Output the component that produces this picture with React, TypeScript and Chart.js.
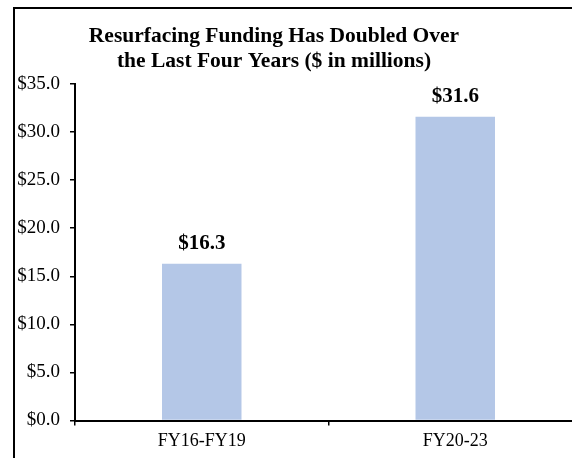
import React, { useEffect, useRef } from "react";
import { Chart, registerables } from "chart.js";

Chart.register(...registerables);

const categories = ["FY16-FY19", "FY20-23"];
const funding = [16.3, 31.6];
const titleLines = ["Resurfacing Funding Has Doubled Over", "the Last Four Years ($ in millions)"];
const yMin = 0;
const yMax = 35;
const yStep = 5;

const SERIF = '"Liberation Serif", "Times New Roman", Times, serif';

const titlePlugin = {
  id: "customTitle",
  afterDraw(chart: any) {
    const ctx = chart.ctx;
    ctx.save();
    ctx.fillStyle = "#000";
    ctx.font = `bold 21.5px ${SERIF}`;
    ctx.textAlign = "center";
    ctx.textBaseline = "alphabetic";
    ctx.fillText(titleLines[0], 259, 33);
    ctx.fillText(titleLines[1], 259, 58);
    ctx.restore();
  },
};

const labelPlugin = {
  id: "barLabels",
  afterDatasetsDraw(chart: any) {
    const ctx = chart.ctx;
    const meta = chart.getDatasetMeta(0);
    ctx.save();
    ctx.fillStyle = "#000";
    ctx.font = `bold 21px ${SERIF}`;
    ctx.textAlign = "center";
    ctx.textBaseline = "alphabetic";
    meta.data.forEach((bar: any, i: number) => {
      ctx.fillText("$" + funding[i].toFixed(1), bar.x, bar.y - 15);
    });
    ctx.restore();
  },
};

export default function App() {
  const ref = useRef<HTMLCanvasElement>(null);
  useEffect(() => {
    if (!ref.current) return;
    const chart = new Chart(ref.current, {
      type: "bar",
      data: {
        labels: categories,
        datasets: [
          {
            data: funding,
            backgroundColor: "#B4C7E7",
            borderWidth: 0,
            barPercentage: 1,
            categoryPercentage: 0.3136,
          },
        ],
      },
      options: {
        animation: false,
        responsive: false,
        maintainAspectRatio: false,
        layout: { padding: { top: 75, right: 33, bottom: 0, left: 0 } },
        plugins: {
          legend: { display: false },
          title: { display: false },
          tooltip: { enabled: false },
        },
        scales: {
          x: {
            offset: true,
            grid: {
              offset: true,
              drawOnChartArea: false,
              drawTicks: true,
              tickLength: 5,
              color: "#000",
              lineWidth: 1.5,
            },
            border: { display: true, color: "#000", width: 2 },
            ticks: {
              color: "#000",
              font: { family: SERIF, size: 18 },
              padding: 5,
              maxRotation: 0,
            },
            afterFit(scale: any) {
              scale.height = 58.5;
            },
          },
          y: {
            min: yMin,
            max: yMax,
            grid: {
              drawOnChartArea: false,
              drawTicks: true,
              tickLength: 5,
              color: "#000",
              lineWidth: 1.5,
            },
            border: { display: true, color: "#000", width: 2 },
            ticks: {
              stepSize: yStep,
              color: "#000",
              font: { family: SERIF, size: 19 },
              padding: 10,
              callback: (v: any) => "$" + Number(v).toFixed(1),
            },
            afterFit(scale: any) {
              scale.width = 60;
            },
          },
        },
      },
      plugins: [titlePlugin, labelPlugin],
    });
    return () => chart.destroy();
  }, []);

  return (
    <div
      style={{
        position: "fixed",
        left: 0,
        top: 0,
        width: 572,
        height: 458,
        overflow: "hidden",
        background: "#fff",
      }}
    >
      <div
        style={{
          position: "absolute",
          left: 13,
          top: 7,
          width: 620,
          height: 500,
          border: "2px solid #000",
          borderRight: "none",
          borderBottom: "none",
        }}
      >
        <canvas
          ref={ref}
          width={600}
          height={470}
          style={{ display: "block", width: 600, height: 470 }}
        />
      </div>
    </div>
  );
}
